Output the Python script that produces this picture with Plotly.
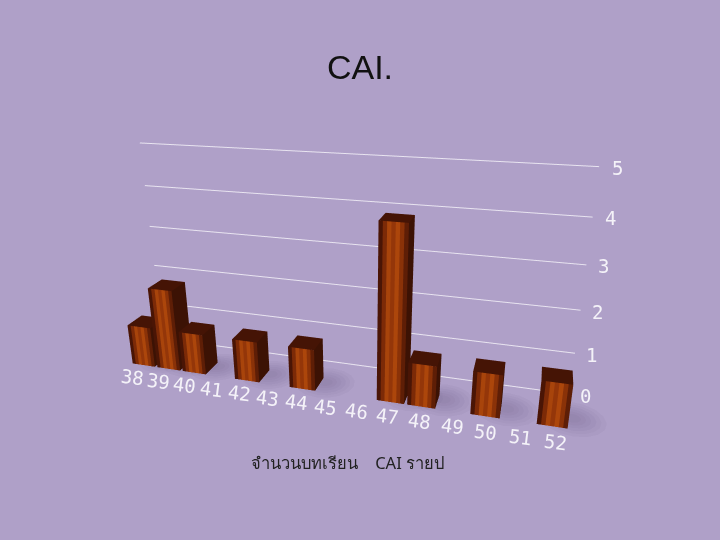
import math

import plotly.graph_objects as go

# data
categories = ["38", "39", "40", "41", "42", "43", "44", "45", "46", "47", "48", "49", "50", "51", "52"]
values = [1, 2, 1, 0, 1, 0, 1, 0, 0, 4, 1, 0, 1, 0, 1]
value_ticks = [0, 1, 2, 3, 4, 5]
title_text = "CAI."
axis_text = "จำนวนบทเรียน\u00a0\u00a0\u00a0\u00a0CAI รายป"

bg = "#AFA0C8"
stripes = ["#4a1505", "#7c2a07", "#a8440b", "#943609", "#ac460b", "#8a3208", "#5e1e06"]
side_col = "#3c1204"
top_col = "#451405"

bar_w = 0.9
bar_d = 0.8
wall_y = 1.9

xs, ys, zs, ii, jj, kk, cols = [], [], [], [], [], [], []


def quad(p0, p1, p2, p3, col):
    n = len(xs)
    for p in (p0, p1, p2, p3):
        xs.append(p[0])
        ys.append(p[1])
        zs.append(p[2])
    ii.extend([n, n])
    jj.extend([n + 1, n + 2])
    kk.extend([n + 2, n + 3])
    cols.extend([col, col])


# bars: front is split in vertical strips for the wood look
for pos, val in enumerate(values):
    if val == 0:
        continue
    x0 = pos - bar_w / 2
    x1 = pos + bar_w / 2
    sw = bar_w / len(stripes)
    for s, col in enumerate(stripes):
        a = x0 + s * sw
        b = a + sw
        quad((a, 0, 0), (b, 0, 0), (b, 0, val), (a, 0, val), col)
    quad((x1, 0, 0), (x1, bar_d, 0), (x1, bar_d, val), (x1, 0, val), side_col)
    quad((x0, 0, val), (x1, 0, val), (x1, bar_d, val), (x0, bar_d, val), top_col)

fig = go.Figure()

# soft floor shadows, a few nested translucent discs per layer
for layer, scale in enumerate([1.0, 0.85, 0.7, 0.55, 0.4, 0.25]):
    sx, sy, sz, si, sj, sk = [], [], [], [], [], []
    for pos, val in enumerate(values):
        if val == 0:
            continue
        n = len(sx)
        sx.append(pos + 0.6)
        sy.append(bar_d * 0.7)
        sz.append(0.001 * layer)
        for t in range(16):
            ang = 2 * math.pi * t / 16
            sx.append(pos + 0.6 + 1.0 * scale * math.cos(ang))
            sy.append(bar_d * 0.7 + 0.9 * scale * math.sin(ang))
            sz.append(0.001 * layer)
            si.append(n)
            sj.append(n + 1 + t)
            sk.append(n + 1 + (t + 1) % 16)
    fig.add_trace(go.Mesh3d(
        x=sx, y=sy, z=sz, i=si, j=sj, k=sk, color="#50406a", opacity=0.05,
        lighting=dict(ambient=1, diffuse=0, specular=0, roughness=1, fresnel=0),
        hoverinfo="skip", showlegend=False,
    ))

# grid lines on the back wall
for v in value_ticks:
    fig.add_trace(go.Scatter3d(
        x=[-0.5, len(categories) - 0.45], y=[wall_y, wall_y], z=[v, v],
        mode="lines", line=dict(color="#e8e4f0", width=2),
        hoverinfo="skip", showlegend=False,
    ))

fig.add_trace(go.Mesh3d(
    x=xs, y=ys, z=zs, i=ii, j=jj, k=kk, facecolor=cols,
    flatshading=True,
    lighting=dict(ambient=1, diffuse=0, specular=0, roughness=1, fresnel=0),
    hoverinfo="skip", showlegend=False,
))

tick_font = dict(family="DejaVu Sans Mono", size=19, color="#f4f2f8")
labels = []
for pos, c in enumerate(categories):
    labels.append(dict(x=pos + 0.1, y=-0.75, z=0, text=c, showarrow=False, textangle=7, font=tick_font))
for v in value_ticks:
    labels.append(dict(x=len(categories) + 0.05, y=wall_y, z=v, text=str(v), showarrow=False, font=tick_font))

hidden = dict(visible=False, showgrid=False, zeroline=False, showticklabels=False)
fig.update_layout(
    width=720, height=540,
    margin=dict(l=0, r=0, t=0, b=0),
    paper_bgcolor=bg,
    title=dict(text=title_text, x=0.5, xanchor="center", y=0.875, yanchor="middle",
               font=dict(family="Liberation Sans", size=34, color="#111111")),
    scene=dict(
        domain=dict(x=[0, 1], y=[0, 1]),
        bgcolor=bg,
        xaxis=dict(range=[-1.8, 16], **hidden),
        yaxis=dict(range=[-1.2, 2.2], **hidden),
        zaxis=dict(range=[0, 5.2], **hidden),
        aspectmode="manual",
        aspectratio=dict(x=4.1, y=0.85, z=1.8),
        camera=dict(eye=dict(x=1.35, y=-4.2, z=1.7), center=dict(x=0.17, y=0, z=0.07)),
        annotations=labels,
    ),
    annotations=[dict(text=axis_text, x=0.482, y=0.1426, xref="paper", yref="paper", showarrow=False,
                      yanchor="middle", font=dict(family="Noto Sans", size=16.5, color="#222222"))],
)

fig.write_html("out.html", post_script="document.body.style.margin='0';", config=dict(displayModeBar=False))
